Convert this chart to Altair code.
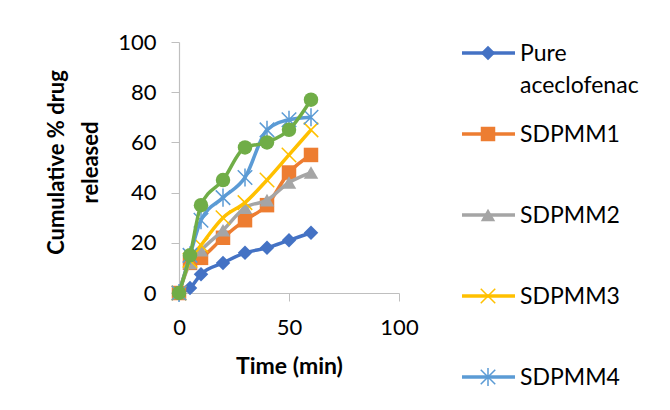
import altair as alt
import pandas as pd

# ---- data ----
times = [0, 5, 10, 20, 30, 40, 50, 60]
series_names = ["Pure aceclofenac", "SDPMM1", "SDPMM2", "SDPMM3", "SDPMM4", "SDPMM5"]
pure = [0, 2, 7.5, 12, 16, 18, 21, 24]
sdpmm1 = [0, 12, 14, 22, 29, 35, 48, 55]
sdpmm2 = [0, 12, 17, 25, 34, 37, 44, 48]
sdpmm3 = [0, 13, 19, 30, 36, 45, 55, 65]
sdpmm4 = [0, 15, 29, 38, 46, 65, 69, 70]
sdpmm5 = [0, 15, 35, 45, 58, 60, 65, 77]
legend_labels = ["Pure\naceclofenac", "SDPMM1", "SDPMM2", "SDPMM3", "SDPMM4"]

values = [pure, sdpmm1, sdpmm2, sdpmm3, sdpmm4, sdpmm5]
colors = ["#4472C4", "#ED7D31", "#A5A5A5", "#FFC000", "#5B9BD5", "#70AD47"]
XPATH = "M-1,-1L1,1M-1,1L1,-1"
STARPATH = "M-1,-1L1,1M-1,1L1,-1M0,-1.25L0,1.25"
shapes = ["diamond", "square", "triangle-up", XPATH, STARPATH, "circle"]
filled = [True, True, True, False, False, True]

rows = []
for name, vals in zip(series_names, values):
    for t, v in zip(times, vals):
        rows.append({"series": name, "time": t, "value": v})
df = pd.DataFrame(rows)

FONT = "Lato"
color_scale = alt.Scale(domain=series_names, range=colors)
shape_scale = alt.Scale(domain=series_names, range=shapes)

xenc = alt.X("time:Q", scale=alt.Scale(domain=[0, 100]),
             axis=alt.Axis(values=[0, 50, 100], title="Time (min)", grid=False,
                           tickSize=8, labelPadding=16, labelFontSize=22,
                           labelFlush=False,
                           titleFontSize=23, titleFontWeight="bold",
                           titleBaseline="alphabetic", titleY=80))
yenc = alt.Y("value:Q", scale=alt.Scale(domain=[0, 100]),
             axis=alt.Axis(values=[0, 20, 40, 60, 80, 100],
                           title=["Cumulative % drug", "released"], grid=False,
                           tickSize=8, labelPadding=15, labelFontSize=22,
                           titleFontSize=22, titleFontWeight="bold",
                           titleAngle=270, titleBaseline="alphabetic",
                           titleAlign="center", titleLineHeight=34,
                           titleX=-116, titleY=120))

layers = []
for i, name in enumerate(series_names):
    sub = alt.Chart(df).transform_filter(alt.datum.series == name)
    line = sub.mark_line(strokeWidth=3.5, interpolate="monotone").encode(
        x=xenc, y=yenc,
        color=alt.Color("series:N", scale=color_scale, legend=None),
        order="time:Q")
    pts = sub.mark_point(filled=filled[i], size=210, opacity=1,
                         strokeWidth=(0 if filled[i] else 1.5)).encode(
        x=xenc, y=yenc,
        color=alt.Color("series:N", scale=color_scale, legend=None),
        shape=alt.Shape("series:N", scale=shape_scale, legend=None))
    layers += [line, pts]

plot = alt.layer(*layers).properties(width=220, height=251)

# ---- manual legend (first five entries are visible in the reference) ----
leg_df = pd.DataFrame({"series": series_names[:5], "label": legend_labels})
leg_y = alt.Y("series:N", scale=alt.Scale(type="point", domain=series_names[:5],
                                           range=[11, 335], padding=0), axis=None)
leg_color = alt.Color("series:N", scale=color_scale, legend=None)
leg_layers = [
    alt.Chart(leg_df).mark_rule(strokeWidth=3.5).encode(
        x=alt.value(22), x2=alt.value(75), y=leg_y, color=leg_color)
]
for i, name in enumerate(series_names[:5]):
    leg_layers.append(
        alt.Chart(leg_df).transform_filter(alt.datum.series == name).mark_point(
            filled=filled[i], size=210, opacity=1,
            strokeWidth=(0 if filled[i] else 1.5)).encode(
            x=alt.value(48), y=leg_y, color=leg_color,
            shape=alt.Shape("series:N", scale=shape_scale, legend=None)))
leg_layers.append(
    alt.Chart(leg_df).mark_text(align="left", baseline="alphabetic", dy=8,
                                fontSize=23, font=FONT, lineBreak="\n",
                                lineHeight=32, color="black").encode(
        x=alt.value(80), y=leg_y, text="label:N"))
legend = alt.layer(*leg_layers).properties(width=190, height=340)

chart = alt.hconcat(plot, legend, spacing=21).resolve_scale(
    color="shared", shape="shared"
).properties(
    padding={"left": 37, "top": 23, "right": 2, "bottom": 2}
).configure_view(stroke=None).configure_axis(
    domainColor="#BFBFBF", tickColor="#BFBFBF", labelColor="black",
    titleColor="black", labelFont=FONT, titleFont=FONT, domainWidth=1.2
).configure_text(font=FONT)

chart.save("out.html", embed_options={"renderer": "svg", "actions": False})
